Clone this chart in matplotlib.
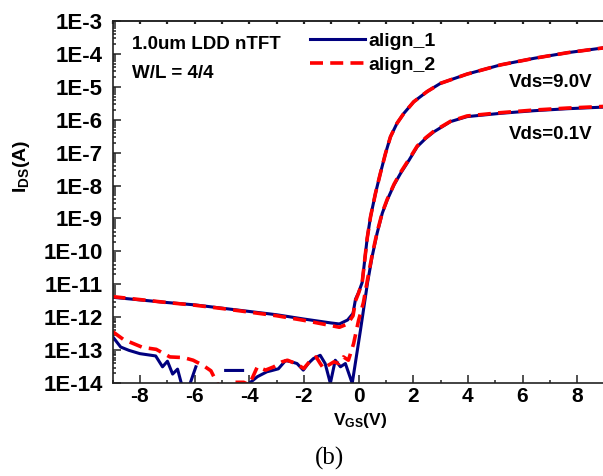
#!/usr/bin/env python3

import matplotlib

matplotlib.use("Agg")
import matplotlib.pyplot as plt
import numpy as np
from matplotlib.ticker import FixedLocator, NullFormatter

plt.rcParams["font.family"] = ["Liberation Sans", "DejaVu Sans"]
plt.rcParams["font.weight"] = "bold"
plt.rcParams["axes.unicode_minus"] = False
plt.rcParams["mathtext.fontset"] = "custom"
plt.rcParams["mathtext.rm"] = "Liberation Sans:bold"
plt.rcParams["mathtext.it"] = "Liberation Sans:bold"
plt.rcParams["mathtext.bf"] = "Liberation Sans:bold"

# As log10(I_DS / A); nan = point missing on log scale
vgs_a1_hi = [-9, -8, -7, -6, -5, -4, -3, -2, -1, -0.7, -0.4, -0.2, -0.11, 0.0, 0.135,
             0.318, 0.44, 0.62, 0.8, 0.99, 1.17, 1.41, 1.66, 2.02, 2.51, 3.0, 3.97, 5.2,
             6.43, 7.65, 9.0]
log_a1_hi = [-11.39, -11.47, -11.55, -11.62, -11.72, -11.82, -11.92, -12.05, -12.17, -12.2,
             -12.08, -11.88, -11.45, -11.25, -10.94, -9.6, -8.95, -8.24, -7.63, -7.02,
             -6.52, -6.11, -5.81, -5.46, -5.15, -4.9, -4.62, -4.34, -4.14, -3.97, -3.82]

vgs_a2_hi = vgs_a1_hi
log_a2_hi = [-11.37, -11.46, -11.55, -11.63, -11.73, -11.84, -11.95, -12.09, -12.25, -12.3,
             -12.2, -11.95, -11.5, -11.27, -10.94, -9.6, -8.95, -8.24, -7.63, -7.02,
             -6.52, -6.11, -5.81, -5.46, -5.15, -4.9, -4.62, -4.34, -4.14, -3.97, -3.82]

vgs_a1_lo = [-9, -8.7, -8.4, -8.0, -7.42, -7.17, -6.99, -6.8, -6.62, -6.45, -6.2, -5.95,
             -5.7, -4.86, -4.24, -4.15, -4.07, -3.7, -3.35, -3.2, -2.93, -2.67, -2.45,
             -2.25, -2.02, -1.84, -1.65, -1.4, -1.22, -1.03, -0.85, -0.66, -0.48, -0.23,
             0.07, 0.33, 0.5, 0.68, 0.87, 1.05, 1.3, 1.54, 1.85, 2.15, 2.46, 2.76, 3.37,
             3.97, 5.2, 6.43, 7.65, 9.0]
log_a1_lo = [-12.58, -12.9, -13.0, -13.1, -13.17, -13.5, -13.33, -13.72, -13.57, -14.1,
             -14.1, -13.5, np.nan, -13.61, -13.61, np.nan, -14.05, -13.8, -13.65, -13.62,
             -13.56, -13.31, -13.35, -13.4, -13.6, -13.4, -13.25, -13.15, -13.4, -14.0,
             -13.3, -13.5, -13.4, -14.0, -12.4, -10.95, -10.15, -9.45, -8.84, -8.44,
             -7.98, -7.63, -7.23, -6.82, -6.57, -6.37, -6.06, -5.91, -5.81, -5.73, -5.67,
             -5.62]

vgs_a2_lo = [-9, -8.6, -7.9, -7.4, -6.9, -6.4, -6.05, -5.7, -5.4, -5.2, -5.0, -4.8, -4.5,
             -4.2, -4.0, -3.7, -3.4, -3.1, -2.8, -2.6, -2.3, -2.0, -1.75, -1.55, -1.4,
             -1.28, -1.1, -0.9, -0.72, -0.55, -0.37, -0.18, 0.0, 0.18, 0.33, 0.5, 0.68,
             0.87, 1.05, 1.3, 1.54, 1.85, 2.15, 2.46, 2.76, 3.37, 3.97, 5.2, 6.43, 7.65,
             9.0]
log_a2_lo = [-12.43, -12.67, -12.91, -12.97, -13.2, -13.22, -13.3, -13.45, -13.62, -13.95,
             -14.3, np.nan, -13.97, -13.97, -14.05, -13.5, -13.6, -13.5, -13.35, -13.3,
             -13.4, -13.55, -13.3, -13.2, -13.4, -13.55, -13.45, -13.35, -13.4, -13.2,
             -13.3, -12.8, -12.1, -11.55, -10.85, -10.1, -9.42, -8.82, -8.42, -7.96,
             -7.6, -7.2, -6.8, -6.55, -6.35, -6.05, -5.89, -5.79, -5.71, -5.65, -5.6]

y_decades = list(range(-14, -2))
x_major = [-8, -6, -4, -2, 0, 2, 4, 6, 8]
x_minor = [-9, -7, -5, -3, -1, 1, 3, 5, 7, 9]

BLUE = "#00007f"
RED = "#ff0000"


def main() -> None:
    W, H = 603, 476
    fig = plt.figure(figsize=(W / 100, H / 100), dpi=100)
    left, right, top, bottom = 112.5, 604.5, 20.7, 383.3
    ax = fig.add_axes([left / W, 1 - bottom / H, (right - left) / W, (bottom - top) / H])

    blue_kw = dict(color=BLUE, lw=2.2, solid_joinstyle="round")
    red_kw = dict(color=RED, lw=2.6, linestyle=(0, (3.6, 2.0)))

    l1, = ax.plot(vgs_a1_hi, 10 ** np.array(log_a1_hi), label="align_1", **blue_kw)
    ax.plot(vgs_a1_lo, 10 ** np.array(log_a1_lo), **blue_kw)
    l2, = ax.plot(vgs_a2_hi, 10 ** np.array(log_a2_hi), label="align_2", **red_kw)
    ax.plot(vgs_a2_lo, 10 ** np.array(log_a2_lo), **red_kw)

    ax.set_yscale("log")
    ax.set_xlim(-9, 9)
    ax.set_ylim(1e-14, 1e-3)

    ax.yaxis.set_major_locator(FixedLocator([10.0 ** d for d in y_decades]))
    ax.set_yticklabels([f"1E{d}" for d in y_decades])
    minor = [m * 10.0 ** d for d in y_decades[:-1] for m in range(2, 10)]
    ax.yaxis.set_minor_locator(FixedLocator(minor))
    ax.yaxis.set_minor_formatter(NullFormatter())

    ax.set_xticks(x_major)
    ax.set_xticks(x_minor, minor=True)

    ax.tick_params(which="both", direction="in", top=False, right=False,
                   color="#222222", width=1.1)
    ax.tick_params(which="major", length=5.5)
    ax.tick_params(axis="y", which="major", pad=7, labelsize=16)
    ax.tick_params(axis="x", which="major", pad=3, labelsize=15)
    ax.tick_params(which="minor", length=2.5)
    for s in ax.spines.values():
        s.set_linewidth(1.2)
        s.set_color("#222222")

    top_ax = ax.secondary_xaxis("top")
    top_ax.set_xticks(x_major + x_minor)
    top_ax.tick_params(direction="in", length=2.5, width=1.6, labeltop=False,
                       color="#222222")
    top_ax.spines["top"].set_linewidth(1.2)
    top_ax.spines["top"].set_color("#444444")

    ax.legend(handles=[l1, l2], loc="upper left", bbox_to_anchor=(0.402, 0.967),
              frameon=False, fontsize=14, handlelength=2.8, handletextpad=0.2,
              labelspacing=0.3, borderpad=0, borderaxespad=0)

    ax.text(0.04, 0.935, "1.0um LDD nTFT", transform=ax.transAxes, fontsize=13.5,
            va="center", ha="left")
    ax.text(0.04, 0.855, "W/L = 4/4", transform=ax.transAxes, fontsize=13.5,
            va="center", ha="left")
    ax.text(0.805, 0.83, "Vds=9.0V", transform=ax.transAxes, fontsize=13.5,
            va="center", ha="left")
    ax.text(0.805, 0.685, "Vds=0.1V", transform=ax.transAxes, fontsize=13.5,
            va="center", ha="left")

    fig.text(22 / W, 1 - 166 / H, r"I$_{\mathrm{DS}}$(A)", rotation=90,
             fontsize=14, ha="center", va="center")
    fig.text(360 / W, 1 - 420 / H, r"V$_{\mathrm{GS}}$(V)", fontsize=12.5,
             ha="center", va="center")
    fig.text(330 / W, 1 - 458 / H, "(b)", family="Liberation Serif",
             fontweight="normal", fontsize=18, ha="center", va="center")

    fig.savefig("out.png", dpi=100)


if __name__ == "__main__":
    main()
